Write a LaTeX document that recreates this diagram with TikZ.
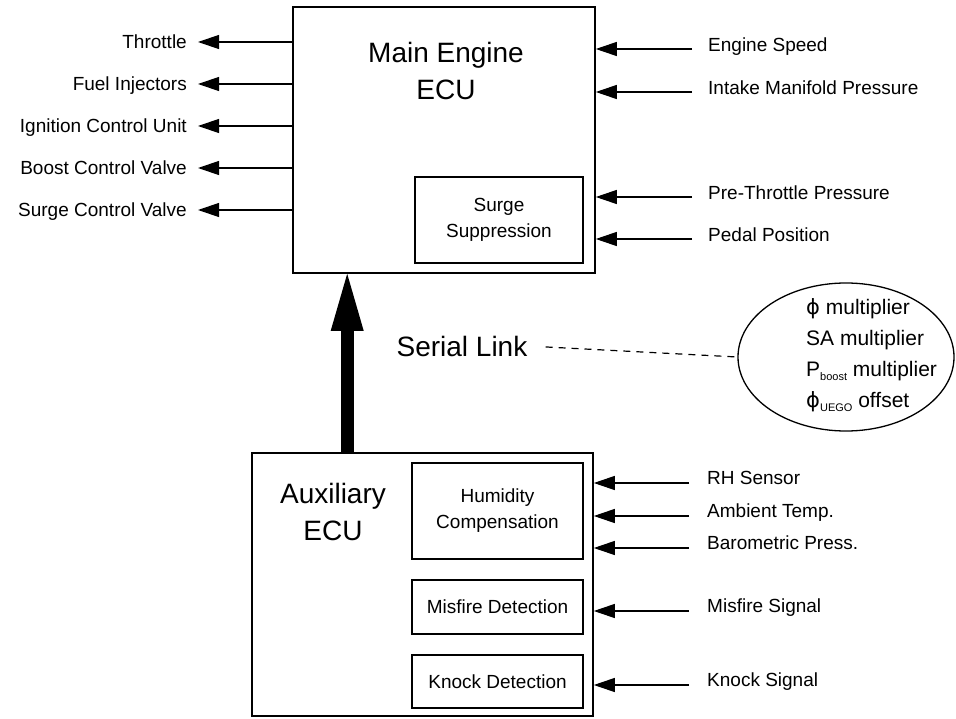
\documentclass[tikz,border=0pt]{standalone}
\usepackage{fontspec}
\setmainfont{Liberation Sans}
\newfontfamily\phifont{DejaVu Sans}
\usetikzlibrary{arrows.meta,shapes.geometric}
\begin{document}
\begin{tikzpicture}[x=1pt,y=-1pt,
  frame/.style={draw, line width=1.6pt, inner sep=0pt},
  inbox/.style={draw, line width=1.3pt, inner sep=0pt, align=center,
    font=\fontsize{19}{26}\selectfont},
  lbl/.style={inner sep=0pt, font=\fontsize{19}{23}\selectfont,
    text height=13.6pt, text depth=0pt},
  sig/.style={line width=1.2pt, -{Triangle[length=21pt,width=14pt]}},
  big/.style={inner sep=0pt, align=center, font=\fontsize{28}{37}\selectfont}]
\useasboundingbox (0,0) rectangle (956,719);

% Main engine ECU
\node[frame, minimum width=302, minimum height=266] (main) at (444,140) {};
\node[big] (maint) at (446,71) {Main Engine\\ECU};
\node[inbox, minimum width=168, minimum height=86] (surge) at (499,220) {Surge\\Suppression};

% outputs (left)
\node[lbl, anchor=east] (o1) at (187,42) {Throttle};
\node[lbl, anchor=east] (o2) at (187,84) {Fuel Injectors};
\node[lbl, anchor=east] (o3) at (187,126) {Ignition Control Unit};
\node[lbl, anchor=east] (o4) at (187,168) {Boost Control Valve};
\node[lbl, anchor=east] (o5) at (187,210) {Surge Control Valve};
\foreach \n in {o1,o2,o3,o4,o5}
  \draw[sig, shorten >=11pt] (main.west |- \n.east) -- (\n.east);

% inputs (right, main)
\node[lbl, anchor=west] (i1) at (708,45) {Engine Speed};
\node[lbl, anchor=west] (i2) at (708,88) {Intake Manifold Pressure};
\node[lbl, anchor=west] (i3) at (708,193) {Pre-Throttle Pressure};
\node[lbl, anchor=west] (i4) at (708,235) {Pedal Position};
\foreach \n in {i1,i2,i3,i4}{
  \coordinate (\n-s) at ([xshift=-16pt,yshift=-4pt]\n.west);
  \draw[sig] (\n-s) -- (main.east |- \n-s);
}

% Auxiliary ECU
\node[frame, minimum width=341, minimum height=263] (aux) at (422.5,584.5) {};
\node[big] (auxt) at (333,512) {Auxiliary\\ECU};
\node[inbox, minimum width=171, minimum height=96] (hum) at (497.5,511) {Humidity\\Compensation};
\node[inbox, minimum width=171, minimum height=54] (mis) at (497.5,607) {Misfire Detection};
\node[inbox, minimum width=171, minimum height=53] (kno) at (497.5,681.5) {Knock Detection};

\node[lbl, anchor=west] (a1) at (707,478) {RH Sensor};
\node[lbl, anchor=west] (a2) at (707,511) {Ambient Temp.};
\node[lbl, anchor=west] (a3) at (707,543) {Barometric Press.};
\node[lbl, anchor=west] (a4) at (707,606) {Misfire Signal};
\node[lbl, anchor=west] (a5) at (707,680) {Knock Signal};
\foreach \n in {a1,a2,a3,a4,a5}{
  \coordinate (\n-s) at ([xshift=-18pt,yshift=-5pt]\n.west);
  \draw[sig] (\n-s) -- (aux.east |- \n-s);
}

% serial link
\coordinate (slbot) at ([xshift=96pt]aux.north west);
\coordinate (sltop) at (slbot |- main.south);
\draw[line width=13pt] (slbot) -- ([yshift=-55pt]sltop);
\fill (sltop) -- ++(16.5,57) -- ++(-33,0) -- cycle;
\node[inner sep=0pt, font=\fontsize{28}{34}\selectfont] (sl) at (462,346) {Serial Link};

\node[draw, ellipse, line width=1.3pt, inner sep=0pt,
  minimum width=216, minimum height=148] (ell) at (846,357) {};
\node[anchor=west, align=left, inner sep=0pt, font=\fontsize{21}{31}\selectfont]
  (params) at (806,355)
  {{\phifont ϕ} multiplier\\
   SA multiplier\\
   P\raisebox{-4pt}{\fontsize{11}{11}\selectfont boost} multiplier\\
   {\phifont ϕ}\raisebox{-4pt}{\fontsize{11}{11}\selectfont UEGO} offset};
\draw[line width=1.2pt, dash pattern=on 7pt off 6pt, shorten <=18pt] (sl.east) -- (ell.west);
\end{tikzpicture}
\end{document}
